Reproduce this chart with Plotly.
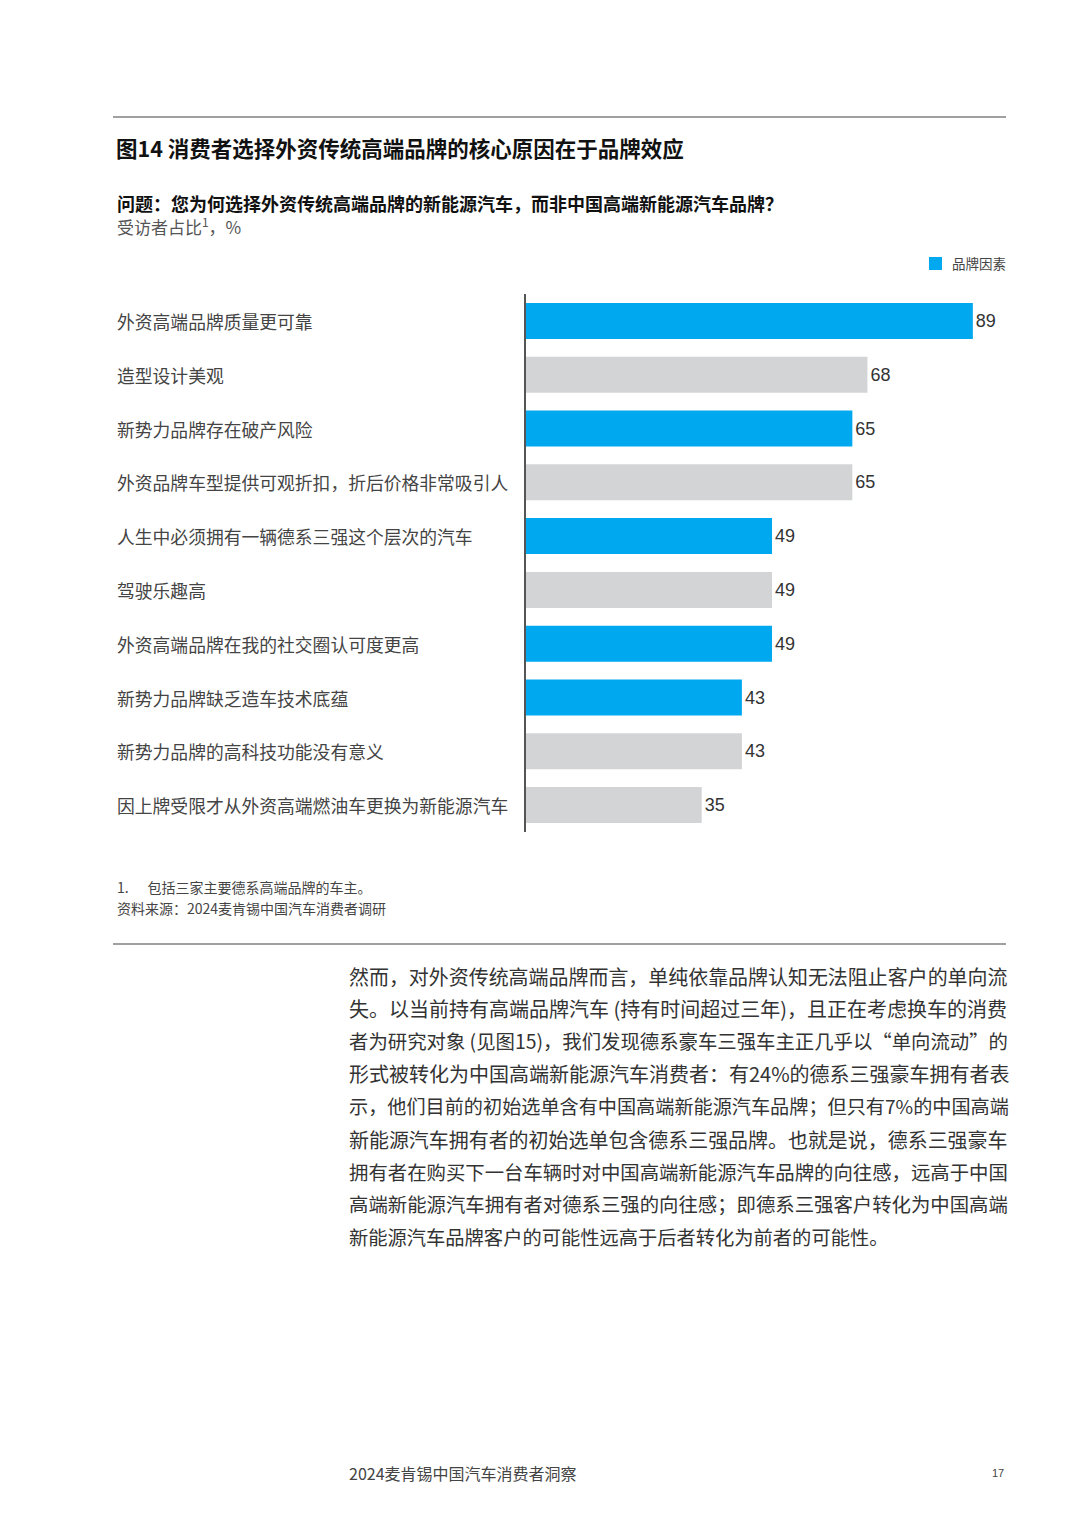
import plotly.graph_objects as go

# the page puts an 8px body margin around the figure
OFF = 8
W, H = 1080 - 2 * OFF, 1522 - 2 * OFF

# chart data
categories = [
    "外资高端品牌质量更可靠",
    "造型设计美观",
    "新势力品牌存在破产风险",
    "外资品牌车型提供可观折扣，折后价格非常吸引人",
    "人生中必须拥有一辆德系三强这个层次的汽车",
    "驾驶乐趣高",
    "外资高端品牌在我的社交圈认可度更高",
    "新势力品牌缺乏造车技术底蕴",
    "新势力品牌的高科技功能没有意义",
    "因上牌受限才从外资高端燃油车更换为新能源汽车",
]
values = [89, 68, 65, 65, 49, 49, 49, 43, 43, 35]
is_brand = [True, False, True, False, True, False, True, True, False, False]

title = "图14 消费者选择外资传统高端品牌的核心原因在于品牌效应"
question = "问题：您为何选择外资传统高端品牌的新能源汽车，而非中国高端新能源汽车品牌？"
unit = "受访者占比<sup>1</sup>，%"
legend_name = "品牌因素"
footnote = "1.      包括三家主要德系高端品牌的车主。"
source = "资料来源：2024麦肯锡中国汽车消费者调研"
body_lines = [
    "然而，对外资传统高端品牌而言，单纯依靠品牌认知无法阻止客户的单向流",
    "失。以当前持有高端品牌汽车 (持有时间超过三年)，且正在考虑换车的消费",
    "者为研究对象 (见图15)，我们发现德系豪车三强车主正几乎以“单向流动”的",
    "形式被转化为中国高端新能源汽车消费者：有24%的德系三强豪车拥有者表",
    "示，他们目前的初始选单含有中国高端新能源汽车品牌；但只有7%的中国高端",
    "新能源汽车拥有者的初始选单包含德系三强品牌。也就是说，德系三强豪车",
    "拥有者在购买下一台车辆时对中国高端新能源汽车品牌的向往感，远高于中国",
    "高端新能源汽车拥有者对德系三强的向往感；即德系三强客户转化为中国高端",
    "新能源汽车品牌客户的可能性远高于后者转化为前者的可能性。",
]
footer = "2024麦肯锡中国汽车消费者洞察"
page_no = "17"

BLUE = "#00A8F0"
GREY = "#D3D4D6"
CJK = "Noto Sans CJK SC"
LAT = "Liberation Sans"


def px(x):
    return (x - OFF) / W


def py(y):
    return 1 - (y - OFF) / H


def em_width(s):
    # rough width of a line in em for Noto Sans CJK
    w = 0
    for ch in s:
        if ord(ch) > 0x2000:
            w += 1.0
        elif ch.isdigit():
            w += 0.555
        elif ch == "%":
            w += 0.84
        elif ch in "()":
            w += 0.33
        elif ch == " ":
            w += 0.22
        else:
            w += 0.5
    return w


fig = go.Figure()
fig.add_trace(go.Bar(
    y=categories,
    x=values,
    orientation="h",
    name=legend_name,
    showlegend=False,
    marker=dict(color=[BLUE if b else GREY for b in is_brand], line=dict(width=0)),
    text=[str(v) for v in values],
    textposition="outside",
    textfont=dict(family=LAT, size=18, color="#333333"),
    cliponaxis=False,
    width=0.67,
))

annotations = []
# category labels, left aligned
for c in categories:
    annotations.append(dict(
        x=px(115), xref="paper", y=c, yref="y", text=c, showarrow=False,
        xanchor="left", yanchor="middle",
        font=dict(family=CJK, size=17.8, color="#444444"),
    ))

annotations += [
    dict(x=px(114), y=py(147), text="<b>" + title + "</b>", font=dict(family=CJK, size=21.5, color="#111111")),
    dict(x=px(115), y=py(203), text="<b>" + question + "</b>", font=dict(family=CJK, size=18, color="#111111")),
    dict(x=px(115), y=py(226), text=unit, font=dict(family=CJK, size=17, color="#555555")),
    dict(x=px(950), y=py(263), text=legend_name, font=dict(family=CJK, size=13.5, color="#444444")),
    dict(x=px(115), y=py(887), text=footnote, font=dict(family=CJK, size=14, color="#444444")),
    dict(x=px(115), y=py(908), text=source, font=dict(family=CJK, size=14, color="#444444")),
    dict(x=px(347), y=py(1473), text=footer, font=dict(family=CJK, size=16, color="#444444")),
    dict(x=px(1006), y=py(1473), text=page_no, xanchor="right", font=dict(family=LAT, size=11, color="#444444")),
]
# body paragraph: justified in the original, so each line is fitted to the column width
col_w = 1006 - 347
for i, line in enumerate(body_lines):
    target = col_w if i < len(body_lines) - 1 else 540
    size = min(20, target / em_width(line))
    annotations.append(dict(
        x=px(347), y=py(976 + i * 32.6), text=line,
        font=dict(family=CJK, size=size, color="#333333"),
    ))
for a in annotations:
    a.setdefault("xref", "paper")
    a.setdefault("yref", "paper")
    a.setdefault("showarrow", False)
    a.setdefault("xanchor", "left")
    a.setdefault("yanchor", "middle")

shapes = [
    dict(type="line", xref="paper", yref="paper", x0=px(113), x1=px(1006), y0=py(117), y1=py(117),
         line=dict(color="#A0A0A0", width=2)),
    dict(type="line", xref="paper", yref="paper", x0=px(113), x1=px(1006), y0=py(944), y1=py(944),
         line=dict(color="#A0A0A0", width=2)),
    # vertical axis line
    dict(type="line", xref="paper", yref="paper", x0=px(525), x1=px(525), y0=py(294), y1=py(832),
         line=dict(color="#555555", width=2)),
    # legend swatch
    dict(type="rect", xref="paper", yref="paper", x0=px(929), x1=px(942), y0=py(257), y1=py(270),
         fillcolor=BLUE, line=dict(width=0)),
]

fig.update_layout(
    width=W, height=H,
    margin=dict(l=0, r=0, t=0, b=0),
    paper_bgcolor="white", plot_bgcolor="white",
    showlegend=False,
    xaxis=dict(
        domain=[px(526), px(1006)], range=[0, 95.6],
        showgrid=False, zeroline=False, showticklabels=False, showline=False,
        fixedrange=True,
    ),
    yaxis=dict(
        domain=[py(832), py(294)], autorange="reversed",
        showgrid=False, zeroline=False, showticklabels=False, showline=False,
        fixedrange=True,
    ),
    annotations=annotations,
    shapes=shapes,
    font=dict(family=CJK),
)

fig.write_html("out.html")
